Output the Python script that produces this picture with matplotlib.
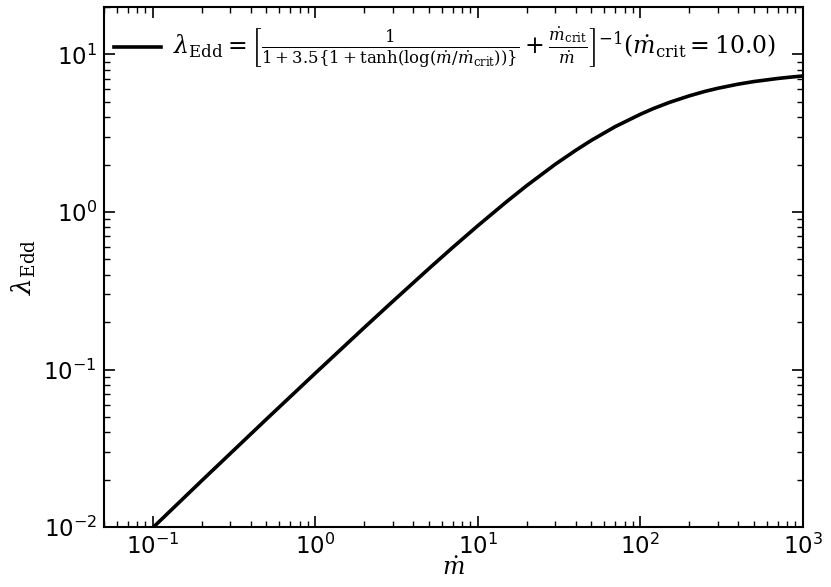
import numpy as np
import matplotlib
matplotlib.use("Agg")
import matplotlib.pyplot as plt

plt.rcParams['mathtext.fontset'] = 'dejavuserif'

# accretion rate (mdot) and Eddington ratio
mdot = [0.05, 0.1, 0.2, 0.5, 1, 2, 3, 5, 7, 10, 15, 20, 30, 40, 50, 70,
        100, 120, 150, 200, 250, 300, 400, 500, 700, 850, 1000]
lam_edd = [0.00498, 0.00991, 0.0197, 0.0484, 0.0948, 0.1845, 0.271, 0.437,
           0.595, 0.818, 1.16, 1.47, 2.01, 2.46, 2.85, 3.48,
           4.17, 4.53, 4.95, 5.46, 5.83, 6.10, 6.48, 6.73, 7.04, 7.19, 7.30]

label = (r'$\lambda_{\rm Edd}=\left[\frac{1}{1+3.5\{1+\tanh(\log(\dot{m}/\dot{m}_{\rm crit}))\}}'
         r'+\frac{\dot{m}_{\rm crit}}{\dot{m}}\right]^{-1}(\dot{m}_{\rm crit}=10.0)$')

fig = plt.figure(figsize=(8.31, 5.87), dpi=100)
ax = fig.add_axes([0.125, 0.102, 0.841, 0.886])

ax.plot(mdot, lam_edd, color='black', lw=2.6, label=label)
ax.set_xscale('log')
ax.set_yscale('log')
ax.set_xlim(0.05, 1000)
ax.set_ylim(0.01, 20)

ax.set_xlabel(r'$\dot{m}$', fontsize=17, labelpad=-2)
ax.set_ylabel(r'$\lambda_{\rm Edd}$', fontsize=19, labelpad=4)

for s in ax.spines.values():
    s.set_linewidth(1.5)
ax.tick_params(which='both', direction='in', top=True, right=True, labelsize=16.5)
ax.tick_params(which='major', length=8, width=1.2, pad=5)
ax.tick_params(which='minor', length=4, width=1.0)

ax.legend(loc='upper left', bbox_to_anchor=(-0.003, 0.986), frameon=False,
          fontsize=17, handlelength=2.0, handletextpad=0.5,
          borderaxespad=0.2, borderpad=0.3)

fig.savefig('out.png', dpi=100)
